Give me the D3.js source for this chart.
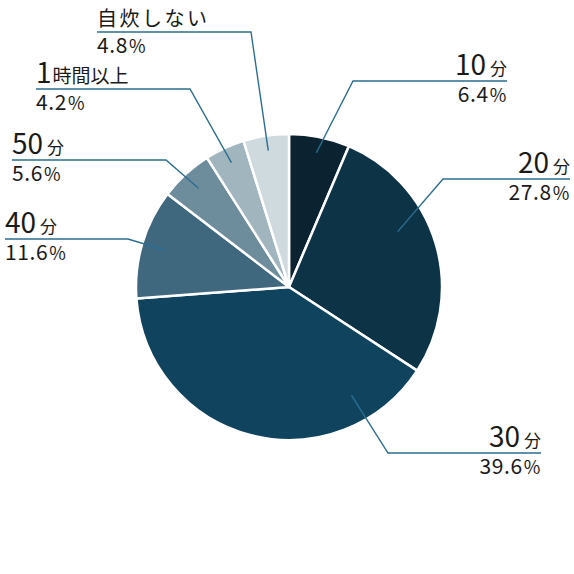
<!DOCTYPE html>
<html>
<head>
<meta charset="utf-8">
<script src="https://cdn.jsdelivr.net/npm/d3@7"></script>
<style>
  html, body { margin: 0; padding: 0; background: #fff; }
  svg { display: block; font-family: "Noto Sans CJK JP", "Noto Sans", sans-serif; font-weight: 400; }
</style>
</head>
<body>
<svg id="chart" width="574" height="574"></svg>
<script>
// Cooking time shares (%)
const numbers = ["10", "20", "30", "40", "50", "1", ""];
const units   = ["分", "分", "分", "分", "分", "時間以上", "自炊しない"];
const shares  = [6.4, 27.8, 39.6, 11.6, 5.6, 4.2, 4.8];
const colors  = ["#0b2331", "#0d3347", "#10445e", "#3f687f", "#6d8c9c", "#a1b5bf", "#cfdadf"];

// Callout layout: anchor angle inside the slice (deg, null = slice middle),
// anchor radius, elbow point, line end, text side
const callouts = [
  { angle: null, r: 137, elbow: [353, 81],  end: 507, side: "right" },
  { angle: 63,   r: 122, elbow: [443, 179], end: 570, side: "right" },
  { angle: 150,  r: 125, elbow: [388, 453], end: 541, side: "right" },
  { angle: null, r: 129, elbow: [128, 239], end: 5,   side: "left" },
  { angle: null, r: 134, elbow: [166, 160], end: 12,  side: "left" },
  { angle: null, r: 137, elbow: [190, 89],  end: 36,  side: "left" },
  { angle: null, r: 138, elbow: [251, 32],  end: 97,  side: "left" }
];

const svg = d3.select("#chart");
const cx = 289, cy = 287, radius = 153;

const data = shares.map((v, i) => ({ num: numbers[i], unit: units[i], value: v, color: colors[i], lay: callouts[i] }));

const pie = d3.pie().value(d => d.value).sort(null);
const arc = d3.arc().innerRadius(0).outerRadius(radius);
const arcs = pie(data);

const g = svg.append("g").attr("transform", `translate(${cx},${cy})`);

g.selectAll("path.slice")
  .data(arcs)
  .join("path")
  .attr("class", "slice")
  .attr("d", arc)
  .attr("fill", d => d.data.color)
  .attr("stroke", "#fff")
  .attr("stroke-width", 2.5)
  .attr("stroke-linejoin", "round");

// Leader lines and labels
const lineColor = "#2b6e92";
arcs.forEach(a => {
  const L = a.data.lay;
  const ang = L.angle == null ? (a.startAngle + a.endAngle) / 2 : L.angle * Math.PI / 180;
  const sx = cx + L.r * Math.sin(ang);
  const sy = cy - L.r * Math.cos(ang);
  svg.append("polyline")
    .attr("points", [[sx, sy], L.elbow, [L.end, L.elbow[1]]].map(p => p.join(",")).join(" "))
    .attr("fill", "none")
    .attr("stroke", lineColor)
    .attr("stroke-width", 1.4);

  const right = L.side === "right";
  const tx = L.end;
  const anchor = right ? "end" : "start";

  // Category label above the line
  const t = svg.append("text")
    .attr("x", tx)
    .attr("y", L.elbow[1] - 6)
    .attr("text-anchor", anchor)
    .attr("fill", "#1a1a1a");
  if (a.data.num) {
    t.append("tspan").attr("font-size", 28).text(a.data.num);
    t.append("tspan")
      .attr("font-size", a.data.unit.length > 1 ? 19 : 17)
      .attr("dx", a.data.unit.length > 1 ? 1 : 4)
      .text(a.data.unit);
  } else {
    t.append("tspan").attr("font-size", 20).attr("letter-spacing", 2.5).text(a.data.unit);
  }

  // Percentage below the line
  const p = svg.append("text")
    .attr("x", tx)
    .attr("y", L.elbow[1] + 21)
    .attr("text-anchor", anchor)
    .attr("fill", "#1a1a1a")
    .attr("letter-spacing", 0.6);
  p.append("tspan").attr("font-size", 21).text(a.data.value.toFixed(1));
  p.append("tspan").attr("font-size", 18).attr("dx", 1).text("%");
});
</script>
</body>
</html>
